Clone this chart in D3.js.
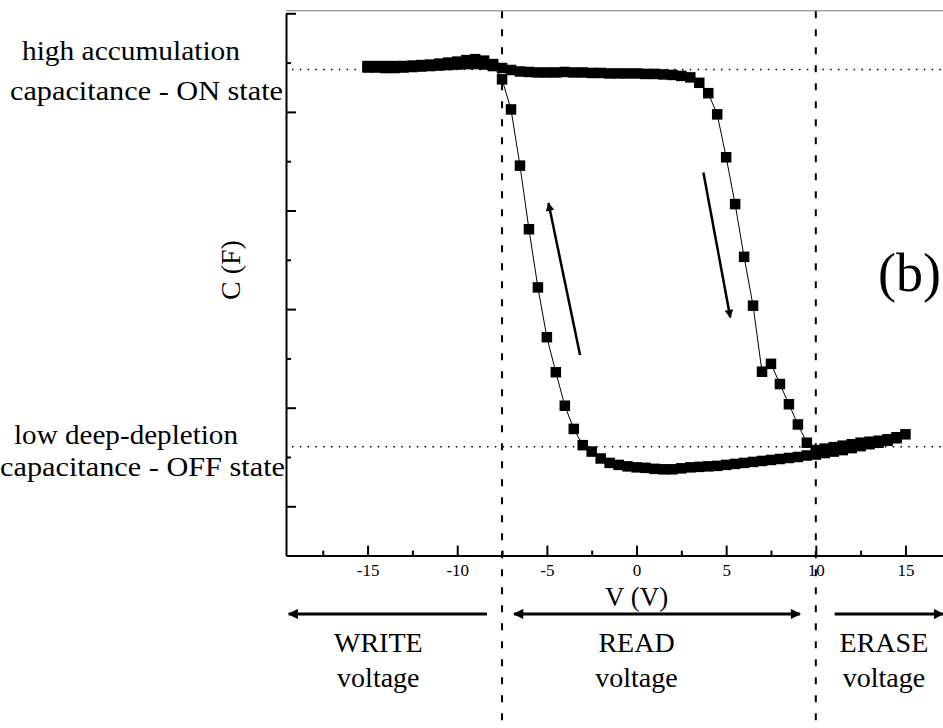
<!DOCTYPE html>
<html>
<head>
<meta charset="utf-8">
<script src="https://cdn.jsdelivr.net/npm/d3@7"></script>
<style>
  body { margin: 0; background: #fff; }
  text { font-family: "Liberation Serif", "Times New Roman", serif; fill: #000; }
</style>
</head>
<body>
<script>
// forward sweep, -15 V -> +15 V
var upV = [-15,-14.5,-14,-13.5,-13,-12.5,-12,-11.5,-11,-10.5,-10,-9.5,-9,-8.5,-8,-7.5,-7,-6.5,-6,-5.5,
           -5,-4.5,-4,-3.5,-3,-2.5,-2,-1.5,-1,-0.5,0,0.5,1,1.5,2,2.5,3,3.5,4,4.5,
           5,5.5,6,6.5,7,7.5,8,8.5,9,9.5,10,10.5,11,11.5,12,12.5,13,13.5,14,14.5,15];
var upC = [9.90,9.90,9.89,9.89,9.90,9.91,9.92,9.93,9.94,9.95,
           9.96,9.97,9.97,9.96,9.93,9.89,9.85,9.82,9.81,9.80,
           9.80,9.80,9.81,9.80,9.80,9.79,9.79,9.78,9.78,9.78,
           9.78,9.77,9.77,9.76,9.75,9.73,9.70,9.59,9.38,8.95,
           8.08,7.13,6.06,5.07,3.73,3.89,3.48,3.07,2.66,2.29,
           2.14,2.17,2.20,2.23,2.26,2.29,2.31,2.33,2.36,2.40,
           2.46];
// reverse sweep, back from +15 V to -15 V
var downV = [14.5,14,13.5,13,12.5,12,11.5,11,10.5,10,9.5,9,8.5,8,7.5,7,6.5,6,5.5,5,
             4.5,4,3.5,3,2.5,2,1.5,1,0.5,0,-0.5,-1,-1.5,-2,-2.5,-3,-3.5,-4,-4.5,-5,
             -5.5,-6,-6.5,-7,-7.5,-8,-8.5,-9,-9.5,-10,-10.5,-11,-11.5,-12,-12.5,-13,-13.5,-14,-14.5,-15];
var downC = [2.38,2.33,2.29,2.26,2.22,2.18,2.14,2.11,2.08,2.05,
             2.03,2.00,1.98,1.96,1.94,1.92,1.90,1.88,1.86,1.84,
             1.82,1.81,1.80,1.79,1.77,1.75,1.75,1.76,1.78,1.79,
             1.81,1.84,1.88,1.97,2.11,2.24,2.57,3.04,3.72,4.43,
             5.44,6.62,7.91,9.05,9.66,9.97,10.04,10.07,10.05,10.02,
             10.00,9.98,9.96,9.95,9.94,9.93,9.93,9.93,9.93,9.93];

var xMajor = [-15,-10,-5,0,5,10,15];
var xMinor = [-17.5,-12.5,-7.5,-2.5,2.5,7.5,12.5,17.5];
var yMajor = [1,3,5,7,9,11];
var yMinor = [2,4,6,8,10];

var stateLevels = [9.86, 2.21];      // ON / OFF reference levels
var boundaries = [-7.5, 10];         // write/read and read/erase limits

var width = 943,
    height = 728;

var svg = d3.select("body").append("svg")
    .attr("width", width)
    .attr("height", height);

var x = d3.scaleLinear()
    .domain([-19.55, 20])
    .range([286, 995.1]);
var y = d3.scaleLinear()
    .domain([0, 11])
    .range([555.6, 13.3]);

var defs = svg.append("defs");
defs.append("marker")
    .attr("id", "head")
    .attr("viewBox", "0 0 10 10")
    .attr("refX", 9).attr("refY", 5)
    .attr("markerWidth", 5).attr("markerHeight", 3.4)
    .attr("markerUnits", "strokeWidth")
    .attr("orient", "auto-start-reverse")
  .append("path")
    .attr("d", "M0,0L10,5L0,10z")
    .attr("fill", "#000");

// top frame line
svg.append("line")
    .attr("x1", x.range()[0]).attr("x2", width)
    .attr("y1", y(11) - 2.5).attr("y2", y(11) - 2.5)
    .attr("stroke", "#777").attr("stroke-width", 1);

// dotted ON / OFF levels
svg.selectAll(".level")
  .data(stateLevels)
  .enter().append("line")
    .attr("class", "level")
    .attr("x1", x.range()[0] + 6).attr("x2", width)
    .attr("y1", d => y(d)).attr("y2", d => y(d))
    .attr("stroke", "#000")
    .attr("stroke-width", 1.5)
    .attr("stroke-dasharray", "1.5,6.3");

// axes
var gx = svg.append("g").attr("transform", `translate(0,${y(0)})`);
gx.call(d3.axisBottom(x).tickValues(xMajor).tickSizeInner(-10).tickSizeOuter(0)
    .tickPadding(8).tickFormat(d => String(d)));
gx.append("g").call(d3.axisBottom(x).tickValues(xMinor).tickSizeInner(-5).tickSizeOuter(0).tickFormat(""))
  .select(".domain").remove();
gx.selectAll("text")
    .attr("font-size", 17)
    .attr("font-family", "Liberation Serif");

var gy = svg.append("g").attr("transform", `translate(${x.range()[0]},0)`);
gy.call(d3.axisLeft(y).tickValues(yMajor).tickSizeInner(-10).tickSizeOuter(0).tickFormat(""));
gy.append("g").call(d3.axisLeft(y).tickValues(yMinor).tickSizeInner(-5).tickSizeOuter(0).tickFormat(""))
  .select(".domain").remove();

svg.selectAll(".domain").attr("stroke-width", 2);
svg.selectAll(".tick line").attr("stroke-width", 2);

// dashed boundaries
svg.selectAll(".bound")
  .data(boundaries)
  .enter().append("line")
    .attr("class", "bound")
    .attr("x1", d => x(d)).attr("x2", d => x(d))
    .attr("y1", y(11) - 2).attr("y2", height)
    .attr("stroke", "#000")
    .attr("stroke-width", 2)
    .attr("stroke-dasharray", "7,11");

// data
var pts = upV.map((v, i) => [v, upC[i]])
    .concat(downV.map((v, i) => [v, downC[i]]));

svg.append("path")
    .datum(pts)
    .attr("fill", "none")
    .attr("stroke", "#000")
    .attr("stroke-width", 1)
    .attr("d", d3.line().x(d => x(d[0])).y(d => y(d[1])));

var s = 10.5;
svg.append("g").selectAll("rect")
  .data(pts)
  .enter().append("rect")
    .attr("x", d => x(d[0]) - s / 2)
    .attr("y", d => y(d[1]) - s / 2)
    .attr("width", s).attr("height", s)
    .attr("fill", "#000");

// sweep direction arrows
var sweepArrows = [[[-3.15, 4.07], [-4.91, 7.15]], [[3.73, 7.77], [5.23, 4.83]]];
svg.selectAll(".sweep")
  .data(sweepArrows)
  .enter().append("line")
    .attr("x1", d => x(d[0][0])).attr("y1", d => y(d[0][1]))
    .attr("x2", d => x(d[1][0])).attr("y2", d => y(d[1][1]))
    .attr("stroke", "#000").attr("stroke-width", 2.5)
    .attr("marker-end", "url(#head)");

// axis titles
svg.append("text")
    .attr("x", x(0)).attr("y", 606)
    .attr("text-anchor", "middle")
    .attr("font-size", 27)
    .text("V (V)");
svg.append("text")
    .attr("transform", "translate(240,270) rotate(-90)")
    .attr("text-anchor", "middle")
    .attr("font-size", 28)
    .text("C (F)");
svg.append("text")
    .attr("x", 878).attr("y", 291)
    .attr("font-size", 54)
    .text("(b)");

// state labels
var labels = [
  {t: "high accumulation", x: 22, y: 60, w: 218},
  {t: "capacitance - ON state", x: 10, y: 100, w: 273},
  {t: "low deep-depletion", x: 14, y: 444, w: 224},
  {t: "capacitance - OFF state", x: 0, y: 476, w: 285}
];
svg.selectAll(".lab")
  .data(labels)
  .enter().append("text")
    .attr("x", d => d.x).attr("y", d => d.y)
    .attr("font-size", 27)
    .attr("textLength", d => d.w)
    .attr("lengthAdjust", "spacingAndGlyphs")
    .text(d => d.t);

// voltage regions
var regions = [
  {name: "WRITE", from: -19.4, to: -8.34, c: -14.4, heads: "start"},
  {name: "READ", from: -6.83, to: 9.12, c: 0, heads: "both"},
  {name: "ERASE", from: 11.05, to: 17.1, c: 13.8, heads: "end"}
];
var rg = svg.selectAll(".region")
  .data(regions)
  .enter().append("g");
rg.append("line")
    .attr("x1", d => x(d.from)).attr("x2", d => x(d.to))
    .attr("y1", 614).attr("y2", 614)
    .attr("stroke", "#000").attr("stroke-width", 3)
    .attr("marker-start", d => d.heads != "end" ? "url(#head)" : null)
    .attr("marker-end", d => d.heads != "start" ? "url(#head)" : null);
rg.append("text")
    .attr("x", d => x(d.c)).attr("y", 652)
    .attr("text-anchor", "middle")
    .attr("font-size", 28)
    .text(d => d.name);
rg.append("text")
    .attr("x", d => x(d.c)).attr("y", 687)
    .attr("text-anchor", "middle")
    .attr("font-size", 28)
    .text("voltage");
</script>
</body>
</html>
